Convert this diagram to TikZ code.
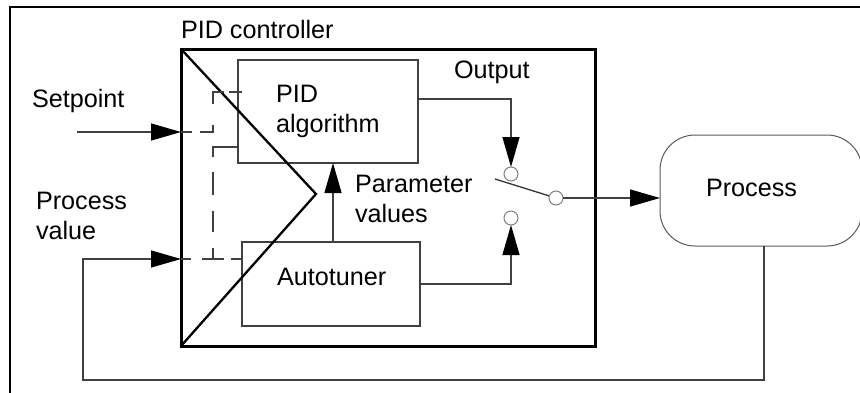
\documentclass[tikz,border=0pt]{standalone}
\usepackage{fontspec}
\setmainfont{Liberation Sans}
\usetikzlibrary{arrows.meta,calc}
\begin{document}
\begin{tikzpicture}[x=1pt,y=-1pt,
  every node/.style={outer sep=0pt},
  txt/.style={inner sep=0pt, anchor=base west, font=\fontsize{25.2}{30.5}\selectfont},
  thinln/.style={draw=black!75, line width=1.3pt},
  arr/.style={thinln, -{Triangle[length=30pt,width=17pt,color=black]}},
  box/.style={draw=black!75, line width=1.3pt, inner sep=0pt},
  contact/.style={circle, draw=black!50, fill=white, line width=1pt, minimum size=14pt, inner sep=0pt},
  dsh/.style={draw=black!75, line width=1.3pt}
]
\useasboundingbox (0,0) rectangle (860,392);
\clip (0,0) rectangle (860,392);

% outer frame
\draw[line width=2pt] (10,400) -- (10,7) -- (870,7);

% PID controller
\node[draw, line width=3pt, minimum width=414pt, minimum height=297pt, inner sep=0pt] (ctrl) at (388,197.5) {};
\node[txt] (ctrltxt) at (181,38) {PID controller};

% inner boxes
\node[box, minimum width=180pt, minimum height=103pt] (pid) at (328,111.5) {};
\node[txt] (pidtxt) at (276,102) {\begin{tabular}[t]{@{}l@{}}PID\\algorithm\end{tabular}};
\node[box, minimum width=178pt, minimum height=84pt] (auto) at (331,284) {};
\node[txt] (autotxt) at (277,285) {Autotuner};

% diagonal
\coordinate (apex) at (316,194);
\draw[line width=2.3pt] (ctrl.north west) -- (apex) -- (ctrl.south west);

% process
\node[draw=black!65, line width=1pt, rounded corners=35pt, minimum width=202pt, minimum height=111pt, inner sep=0pt] (proc) at (761,190.5) {};
\node[txt] (proctxt) at (706,196) {Process};

% labels
\node[txt] (sptxt) at (32,107) {Setpoint};
\node[txt] (pvtxt) at (36,209) {\begin{tabular}[t]{@{}l@{}}Process\\value\end{tabular}};
\node[txt] (partxt) at (355,192) {\begin{tabular}[t]{@{}l@{}}Parameter\\values\end{tabular}};
\node[txt] (outtxt) at (454,78) {Output};

% inputs
\coordinate (spsrc) at (77,132);
\coordinate (spin) at (181,132);
\coordinate (pvin) at (181,259);
\coordinate (fb) at (83,380);
\draw[arr] (spsrc) -- (spin);
\draw[dsh, dash pattern=on 11pt off 8pt on 20pt off 21pt on 23pt off 5pt on 13pt off 60pt]
  (spin) -- (213,132) -- (213,92) -- (242,92);
\draw[dsh, dash pattern=on 10pt off 11pt on 22pt off 7pt on 11pt off 60pt]
  (pvin) -- (auto.west |- pvin);
\coordinate (jn) at (213,147);
\draw[dsh, dash pattern=on 11pt off 16pt on 21pt off 16pt on 23pt off 15pt on 40pt off 60pt]
  (213,259) -- (jn) -- (jn -| pid.west);

% switch
\coordinate (lev) at (495,179);
\coordinate (pvc) at (556,198);
\draw[draw=black!80, line width=1.3pt] (lev) -- (pvc);
\node[contact] (c1) at (511,174) {};
\node[contact] (c2) at (511,218) {};
\node[contact] (pv) at (pvc) {};

% outputs
\coordinate (pidout) at (418,99);
\draw[arr] (pidout) -| (c1);
\draw[arr] (auto.east) -| (c2);
\coordinate (parbot) at ([xshift=2pt]auto.north);
\draw[arr] (parbot) -- (parbot |- pid.south);
\draw[arr] (pv.east) -- (pv.east -| proc.west);

% feedback
\coordinate (fbtop) at ([xshift=3pt]proc.south);
\draw[arr] (fbtop) |- (fb) |- (pvin);
\end{tikzpicture}
\end{document}
